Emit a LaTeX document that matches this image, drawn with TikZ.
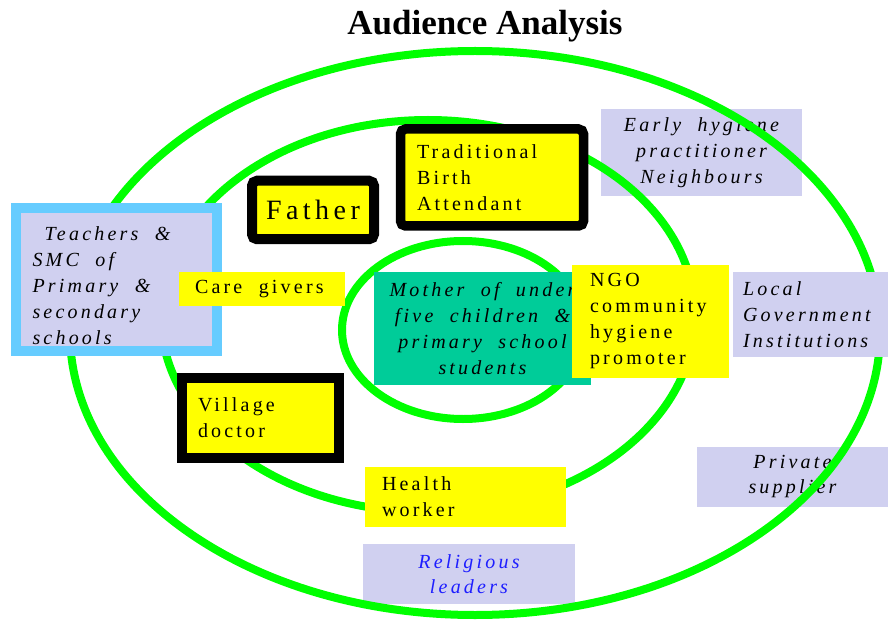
\documentclass[tikz,border=0pt]{standalone}
\usepackage{fontspec}
\setmainfont{Liberation Serif}
\newfontfamily\boxfont{Liberation Serif}[LetterSpace=16, WordSpace=2.0]
\usepackage{xcolor}
\usepackage{tikz}
\hyphenpenalty=10000
\definecolor{ringgreen}{RGB}{0,255,0}
\definecolor{lilac}{RGB}{208,208,240}
\definecolor{skyframe}{RGB}{102,204,255}
\definecolor{mothergreen}{RGB}{0,204,153}
\definecolor{noteyellow}{RGB}{255,255,0}
\definecolor{textblue}{RGB}{30,30,255}
\tikzset{
  % Rings of the audience
  ring/.style={draw=ringgreen, line width=8pt},
  % Boxes
  tag/.style={rectangle, fill=lilac, inner sep=0pt, align=center, font=\boxfont\itshape\fontsize{20}{26}\selectfont,
    execute at begin node={\spaceskip=0pt\xspaceskip=0pt}},
  note/.style={rectangle, fill=noteyellow, inner sep=0pt, font=\boxfont\fontsize{20}{26}\selectfont,
    execute at begin node={\spaceskip=0pt\xspaceskip=0pt}},
  framed/.style={note, draw=black, line width=10pt},
}
\begin{document}
\begin{tikzpicture}[x=1pt, y=-1pt]
    \useasboundingbox (0,0) rectangle (888,620);

    % Title
    \node[font=\bfseries\fontsize{35}{38}\selectfont, inner sep=0pt] (title) at (485,26) {Audience Analysis};

    % Outer circle audience
    \node[tag, minimum width=201pt, minimum height=87pt] (erly) at (701.5,152.5) {Early hygiene\\practitioner\\Neighbours};
    \node[tag, minimum width=191pt, minimum height=60pt, font=\boxfont\itshape\fontsize{20}{25}\selectfont] (priv) at (792.5,477) {Private\\supplier};
    \node[tag, minimum width=212pt, minimum height=60pt, text=textblue, font=\boxfont\itshape\fontsize{20}{25}\selectfont] (relig) at (469,574) {Religious\\leaders};

    % Rings
    \draw[ring] (475,333) ellipse [x radius=405pt, y radius=282pt];
    \draw[ring] (428,316) ellipse [x radius=267pt, y radius=196pt];
    \draw[ring] (463,330) ellipse [x radius=121pt, y radius=89pt];

    \node[tag, align=left, text width=135pt, inner xsep=10pt, minimum height=85pt] (local) at (810.5,314.5) {Local\\Government\\Institutions};
    \node[tag, draw=skyframe, line width=10pt, align=left, text width=168pt, inner xsep=16.5pt, minimum height=143pt] (teach) at (116.5,279.3) {\raisebox{-8pt}[\height][\depth]{\begin{tabular}{@{}l@{}}\hspace{12pt}Teachers \&\\SMC of\\Primary \&\\secondary\\schools\end{tabular}}};

    % Primary audience
    \node[rectangle, fill=mothergreen, inner sep=0pt, align=center, minimum width=217pt, minimum height=113pt, font=\boxfont\itshape\fontsize{20}{26}\selectfont] (mother) at (482.5,328.5) {Mother of under\\five children \&\\primary school\\students};

    % Secondary audience
    \node[note, align=left, text width=134pt, inner xsep=16pt, minimum height=34pt] (care) at (262,289) {Care givers};
    \node[framed, rounded corners=5pt, minimum width=122pt, minimum height=58.5pt, font=\boxfont\fontsize{28}{30}\selectfont] (father) at (313,210) {Father};
    \node[framed, rounded corners=5pt, line width=9.5pt, align=left, text width=150pt, inner xsep=16.5pt, minimum height=97pt] (tba) at (492,177.5) {Traditional\\Birth\\Attendant};
    \node[note, align=left, text width=121pt, inner xsep=18pt, minimum height=113pt] (ngo) at (650.5,321.5) {NGO\\community\\hygiene\\promoter};
    \node[framed, line width=10.5pt, align=left, text width=125pt, inner xsep=16pt, minimum height=80pt] (village) at (260.5,418) {Village\\doctor};
    \node[note, align=left, text width=167pt, inner xsep=17pt, minimum height=60pt] (health) at (465.5,497) {Health\\worker};
\end{tikzpicture}
\end{document}
